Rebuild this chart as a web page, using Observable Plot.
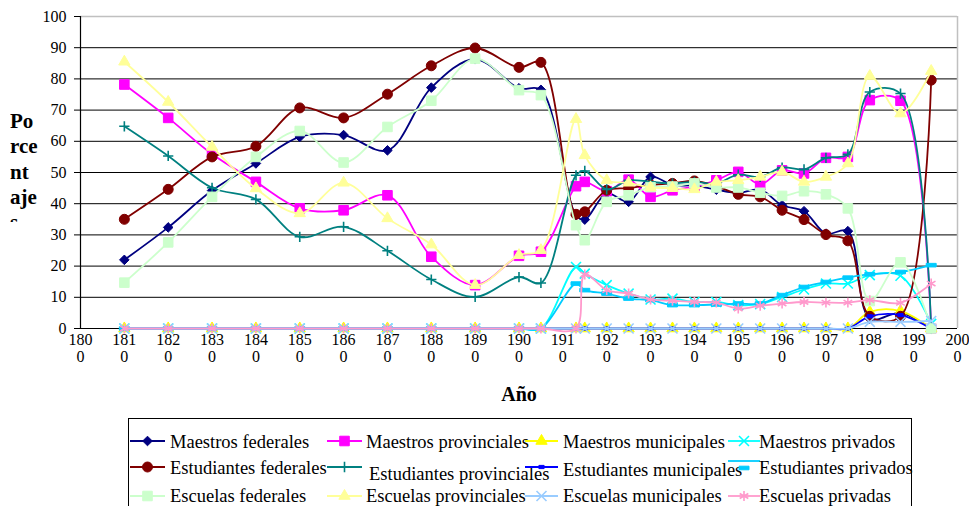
<!DOCTYPE html>
<html><head><meta charset="utf-8">
<script src="https://cdn.jsdelivr.net/npm/d3@7"></script>
<script src="https://cdn.jsdelivr.net/npm/@observablehq/plot@0.6"></script>
<style>
html,body{margin:0;padding:0;background:#fff;}
#wrap{position:relative;width:969px;height:506px;overflow:hidden;font-family:"Liberation Serif","Times New Roman",serif;color:#000;}
#chart{position:absolute;left:0;top:0;}
#chart svg text{font-family:"Liberation Serif","Times New Roman",serif !important;}
#ytitle{position:absolute;left:10px;top:109px;height:113px;overflow:hidden;font-weight:bold;font-size:21px;line-height:25.3px;white-space:pre;}
#legend{position:absolute;left:0;top:418px;}
</style></head><body><div id="wrap"><div id="chart"></div><div id="ytitle">Po
rce
nt
aje
s</div><div id="legend"></div></div>
<script>
// ---- data ----
const years = [1810,1820,1830,1840,1850,1860,1870,1880,1890,1900,1905,1913,1915,1920,1925,1930,1935,1940,1945,1950,1955,1960,1965,1970,1975,1980,1987,1994];
const xTicks = [1800,1810,1820,1830,1840,1850,1860,1870,1880,1890,1900,1910,1920,1930,1940,1950,1960,1970,1980,1990,2000];
const yTicks = [0,10,20,30,40,50,60,70,80,90,100];
const seriesNames = ["Maestros federales","Maestros provinciales","Maestros municipales","Maestros privados",
  "Estudiantes federales","Estudiantes provinciales","Estudiantes municipales","Estudiantes privados",
  "Escuelas federales","Escuelas provinciales","Escuelas municipales","Escuelas privadas"];

const maestrosFederales      = [22,32.4,44.2,52.9,61.4,62,57.1,77.2,86.3,77,76.5,36.3,34.9,43.3,40.6,48.6,46,45.8,44.5,43.5,44.5,39.5,37.6,30.4,31.2,3.2,5,0];
const maestrosProvinciales   = [78.2,67.5,55.9,47,38.5,37.9,42.7,23,13.9,23.3,24.6,45.6,47,44,47.7,42.2,44.3,45.5,47.5,50.2,46.2,50.7,49.7,54.7,55,73.2,73,0];
const maestrosMunicipales    = [0,0,0,0,0,0,0,0,0,0,0,0,0,0,0,0,0,0,0,0,0,0,0,0,0,5.3,5.6,0];
const maestrosPrivados       = [0,0,0,0,0,0,0,0,0,0,0,19.7,17.6,13.9,11.2,9.3,9.6,8.5,8.5,7.5,7.8,10.1,12.5,14.4,14.4,17.1,16.9,1.5];
const estudiantesFederales   = [35,44.6,55,58.4,70.7,67.5,75.1,84.2,89.9,83.7,85.3,36.6,37.4,44.3,45,46,46.5,47.3,45.6,43,42.2,37.9,34.9,30.1,28.1,3.9,3.9,79.6];
const estudiantesProvinciales= [64.8,55.3,45.1,41.4,29.4,32.6,24.9,15.7,10.1,16.5,14.6,49.1,50.5,44.6,47.5,47,46.5,47,46.5,49.3,48.6,51.6,51,54.7,55.8,75.8,75.3,0];
const estudiantesMunicipales = [0,0,0,0,0,0,0,0,0,0,0,0,0,0,0,0,0,0,0,0,0,0,0,0,0,3.9,4.3,0];
const estudiantesPrivados    = [0,0,0,0,0,0,0,0,0,0,0,14.4,12.3,11.2,9.6,9.1,7.5,7.5,7.7,8,8,10.7,13.3,14.9,16.3,17.4,18.1,20.3];
const escuelasFederales      = [14.7,27.6,42.2,55,63.3,53.2,64.6,73,86.5,76.4,74.8,33.1,28.3,40.6,42.7,45.3,45.5,46.5,45.2,45.2,43.5,42.5,44,43,38.5,8.8,21.2,0];
const escuelasProvinciales   = [85.5,72.6,58.2,44.9,36.9,46.7,35.3,26.9,13.9,23.5,25.1,67.1,55.5,47.5,46.7,45.2,45,44.6,47,47.5,48.6,50.2,47,48.6,52.9,80.9,68.9,82.5];
const escuelasMunicipales    = [0,0,0,0,0,0,0,0,0,0,0,0,0,0,0,0,0,0,0,0,0,0,0,0,0,2.1,2.1,2.4];
const escuelasPrivadas       = [0,0,0,0,0,0,0,0,0,0,0,0,17.3,12.3,11.2,9.3,8.9,8.5,8.3,6.4,7.3,8,8.5,8.3,8.3,9.1,8.2,14.4];

const seriesValues = [maestrosFederales,maestrosProvinciales,maestrosMunicipales,maestrosPrivados,
  estudiantesFederales,estudiantesProvinciales,estudiantesMunicipales,estudiantesPrivados,
  escuelasFederales,escuelasProvinciales,escuelasMunicipales,escuelasPrivadas];

// ---- styles ----
const FONT = "Liberation Serif, Times New Roman, serif";
const diamondSym = {draw(c){const h=4.8;c.moveTo(0,-h);c.lineTo(h,0);c.lineTo(0,h);c.lineTo(-h,0);c.closePath();}};
const dashSmall = {draw(c){c.moveTo(-2.6,-1.6);c.lineTo(2.6,-1.6);c.lineTo(2.6,1.6);c.lineTo(-2.6,1.6);c.closePath();}};
const dashLong = {draw(c){c.moveTo(-5,-1.8);c.lineTo(5,-1.8);c.lineTo(5,1.8);c.lineTo(-5,1.8);c.closePath();}};
const styles = [
  {color:"#000080", sym:diamondSym, r:4, filled:true},
  {color:"#FF00FF", sym:d3.symbolSquare, r:5.4, filled:true},
  {color:"#FFFF00", sym:d3.symbolTriangle, r:4.2, filled:true},
  {color:"#00FFFF", sym:d3.symbolTimes, r:4.6, filled:false},
  {color:"#800000", sym:d3.symbolCircle, r:5, filled:true},
  {color:"#008080", sym:d3.symbolPlus, r:3.4, filled:false},
  {color:"#0000FF", sym:dashSmall, r:4, filled:true},
  {color:"#00CCFF", sym:dashLong, r:4, filled:true},
  {color:"#CCFFCC", sym:d3.symbolSquare, r:5.4, filled:true},
  {color:"#FFFF99", sym:d3.symbolTriangle, r:4.2, filled:true},
  {color:"#99CCFF", sym:d3.symbolTimes, r:4.6, filled:false},
  {color:"#FF99CC", sym:d3.symbolAsterisk, r:4.7, filled:false}
];

const seriesMarks = [];
seriesNames.forEach((name, i) => {
  const rows = years.map((yr, j) => ({year: yr, value: seriesValues[i][j]}));
  const st = styles[i];
  seriesMarks.push(Plot.line(rows, {x:"year", y:"value", stroke: st.color, strokeWidth: 1.8, curve: "catmull-rom"}));
  seriesMarks.push(Plot.dot(rows, {x:"year", y:"value", symbol: st.sym, r: st.r,
    fill: st.filled ? st.color : "none", stroke: st.color, strokeWidth: st.filled ? 1 : 1.6}));
});

const plot = Plot.plot({
  width: 969, height: 418,
  marginLeft: 80, marginRight: 12, marginTop: 16, marginBottom: 90,
  style: {fontFamily: FONT, color: "#000", background: "#fff", overflow: "visible"},
  x: {domain: [1800, 2000], axis: null},
  y: {domain: [0, 100], axis: null},
  marks: [
    Plot.ruleY(yTicks.filter(d => d > 0 && d < 100), {stroke: "#000", strokeWidth: 1}),
    Plot.ruleY([100], {stroke: "#c0c0c0", strokeWidth: 1.5}),
    Plot.ruleX([2000], {stroke: "#c0c0c0", strokeWidth: 1.5}),
    Plot.text(yTicks, {y: d => d, frameAnchor: "left", dx: -14, textAnchor: "end", text: d => String(d), fontSize: 16, fontFamily: FONT, fill: "#000"}),
    Plot.text(xTicks, {x: d => d, frameAnchor: "bottom", dy: 11, lineAnchor: "middle", text: d => String(d).slice(0,3), fontSize: 16, fontFamily: FONT, fill: "#000"}),
    Plot.text(xTicks, {x: d => d, frameAnchor: "bottom", dy: 28, lineAnchor: "middle", text: d => String(d).slice(3), fontSize: 16, fontFamily: FONT, fill: "#000"}),
    Plot.ruleX([1800], {stroke: "#000", strokeWidth: 1.2}),
    Plot.ruleY([0], {stroke: "#000", strokeWidth: 1.2}),
    ...seriesMarks,
    Plot.text(["Año"], {frameAnchor: "bottom", dy: 72, text: d => d, fontWeight: "bold", fontSize: 20, fontFamily: FONT, fill: "#000"})
  ]
});
document.getElementById("chart").appendChild(plot);

// y tick marks: short outward lines from the axis, at the y scale's tick positions
d3.select(plot).append("g").selectAll("line").data(yTicks).join("line")
  .attr("x1", 74).attr("x2", 80)
  .attr("y1", d => plot.scale("y").apply(d) + 0.5).attr("y2", d => plot.scale("y").apply(d) + 0.5)
  .attr("stroke", "#000");

// ---- legend ----
const cols = [{l0:130,l1:165,tx:170},{l0:327,l1:362,tx:366},{l0:525,l1:558,tx:563},{l0:728,l1:760,tx:759}];
const rowLine = [23, 49, 78];
const rowBase = [30, 55.5, 84];
const svg = d3.select("#legend").append("svg").attr("width", 969).attr("height", 88)
  .style("font-family", FONT).style("display","block");
svg.append("rect").attr("x", 128.5).attr("y", 0.5).attr("width", 783).attr("height", 200)
  .attr("fill", "#fff").attr("stroke", "#000").attr("stroke-width", 1);
seriesNames.forEach((name, i) => {
  const row = Math.floor(i / 4), col = i % 4;
  const c = cols[col], st = styles[i];
  let ly = rowLine[row], my = rowLine[row], base = rowBase[row], tx = c.tx;
  if (row === 1 && col === 1) { base = 62; tx = 369; }
  if (row === 1 && col === 2) { base = 58; }
  if (row === 1 && col === 3) { ly = 43; my = 50; base = 56; }
  svg.append("line").attr("x1", c.l0).attr("x2", c.l1).attr("y1", ly).attr("y2", ly)
    .attr("stroke", st.color).attr("stroke-width", 1.8);
  svg.append("path").attr("d", d3.symbol(st.sym, Math.PI * st.r * st.r)())
    .attr("transform", `translate(${(c.l0 + c.l1) / 2},${my})`)
    .attr("fill", st.filled ? st.color : "none").attr("stroke", st.color)
    .attr("stroke-width", st.filled ? 1 : 1.6);
  svg.append("text").attr("x", tx).attr("y", base).attr("font-size", 18.5).attr("fill", "#000").text(name);
});
</script></body></html>
